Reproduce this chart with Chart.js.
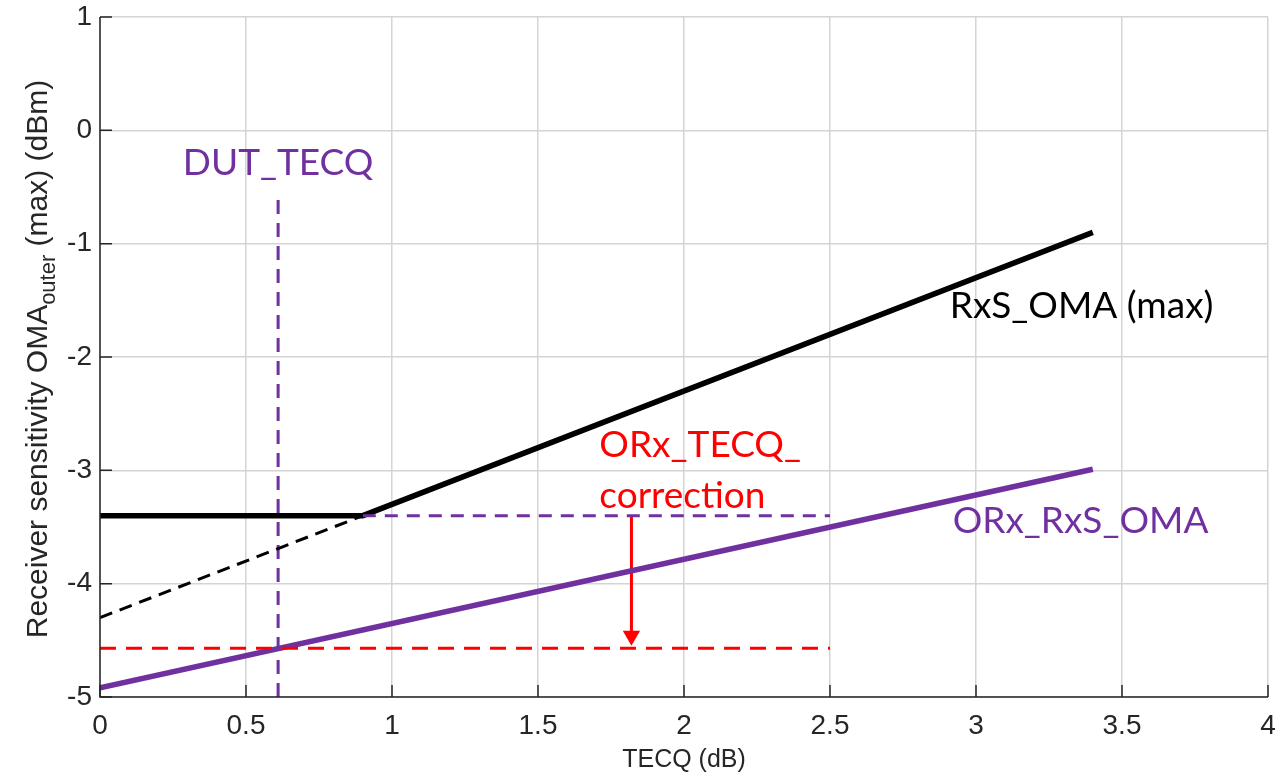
<!DOCTYPE html>
<html>
<head>
<meta charset="utf-8">
<script src="https://cdn.jsdelivr.net/npm/chart.js@4/dist/chart.umd.min.js"></script>
<style>
  html, body { margin: 0; padding: 0; background: #fff; }
  #wrap { width: 1286px; height: 776px; }
</style>
</head>
<body>
<div id="wrap"><canvas id="chart"></canvas></div>
<script>
// values
const rxsMaxX = [0, 0.9, 3.4];
const rxsMaxY = [-3.4, -3.4, -0.9];
const rxsExtX = [0, 0.9];
const rxsExtY = [-4.3, -3.4];
const orxX = [0, 3.4];
const orxY = [-4.92, -2.99];
const dutX = [0.61, 0.61];
const dutY = [-5, -0.6];
const refLevelX = [0.9, 2.5];
const refLevelY = [-3.4, -3.4];
const redLevelX = [0, 2.5];
const redLevelY = [-4.57, -4.57];
const arrowX = [1.82, 1.82];
const arrowY = [-3.4, -4.46];
const xTicks = [0, 0.5, 1, 1.5, 2, 2.5, 3, 3.5, 4];
const yTicks = [1, 0, -1, -2, -3, -4, -5];

// text labels, anchored in data units (baseline)
const notes = [
    { text: "DUT_TECQ", x: 0.61, y: -0.39, color: "#7030A0", align: "center" },
    { text: "RxS_OMA (max)", x: 2.91, y: -1.66, color: "#000000", align: "left" },
    { text: "ORx_TECQ_", x: 1.71, y: -2.88, color: "#FF0000", align: "left" },
    { text: "correction", x: 1.71, y: -3.33, color: "#FF0000", align: "left" },
    { text: "ORx_RxS_OMA", x: 2.92, y: -3.55, color: "#7030A0", align: "left" }
];

const PURPLE = "#7030A0";
const RED = "#FF0000";
const AXIS = "#262626";
const SANS = "'Liberation Sans', Arial, sans-serif";

function pts(xs, ys) {
    return xs.map((x, i) => ({ x: x, y: ys[i] }));
}

const decor = {
    id: "decor",
    afterDraw(chart) {
        const ctx = chart.ctx;
        const xs = chart.scales.x, ys = chart.scales.y;
        const a = chart.chartArea;
        ctx.save();
        // axis box: dark left and bottom
        ctx.strokeStyle = AXIS;
        ctx.lineWidth = 1.5;
        ctx.beginPath();
        ctx.moveTo(a.left, a.top);
        ctx.lineTo(a.left, a.bottom);
        ctx.lineTo(a.right, a.bottom);
        ctx.stroke();
        // inward ticks
        ctx.beginPath();
        xTicks.forEach(v => {
            const px = xs.getPixelForValue(v);
            ctx.moveTo(px, a.bottom);
            ctx.lineTo(px, a.bottom - 12);
        });
        yTicks.forEach(v => {
            const py = ys.getPixelForValue(v);
            ctx.moveTo(a.left, py);
            ctx.lineTo(a.left + 12, py);
        });
        ctx.stroke();

        // annotations
        ctx.font = "37px Lato, 'Open Sans', sans-serif";
        ctx.textBaseline = "alphabetic";
        notes.forEach(n => {
            ctx.fillStyle = n.color;
            ctx.textAlign = n.align;
            ctx.fillText(n.text, xs.getPixelForValue(n.x), ys.getPixelForValue(n.y));
        });

        // x axis title
        ctx.fillStyle = AXIS;
        ctx.font = "25px " + SANS;
        ctx.textAlign = "center";
        ctx.fillText("TECQ (dB)", (a.left + a.right) / 2, 767);

        // y axis title with subscript
        ctx.translate(47, 359);
        ctx.rotate(-Math.PI / 2);
        const big = "30px " + SANS;
        const small = "22px " + SANS;
        const p1 = "Receiver sensitivity OMA", p2 = "outer", p3 = " (max) (dBm)";
        ctx.font = big;
        const w1 = ctx.measureText(p1).width, w3 = ctx.measureText(p3).width;
        ctx.font = small;
        const w2 = ctx.measureText(p2).width;
        const x0 = -(w1 + w2 + w3) / 2;
        ctx.textAlign = "left";
        ctx.font = big;
        ctx.fillText(p1, x0, 0);
        ctx.font = small;
        ctx.fillText(p2, x0 + w1, 8);
        ctx.font = big;
        ctx.fillText(p3, x0 + w1 + w2, 0);
        ctx.restore();
    }
};

new Chart(document.getElementById("chart"), {
    type: "line",
    data: {
        datasets: [
            { data: pts(rxsExtX, rxsExtY), borderColor: "#000", borderWidth: 3, borderDash: [13, 8] },
            { data: pts(refLevelX, refLevelY), borderColor: PURPLE, borderWidth: 3, borderDash: [13, 9] },
            { data: pts(dutX, dutY), borderColor: PURPLE, borderWidth: 3, borderDash: [14, 9] },
            { data: pts(redLevelX, redLevelY), borderColor: RED, borderWidth: 3, borderDash: [16, 10] },
            { data: pts(rxsMaxX, rxsMaxY), borderColor: "#000", borderWidth: 5.5 },
            { data: pts(orxX, orxY), borderColor: PURPLE, borderWidth: 5.5 },
            {
                data: pts(arrowX, arrowY), borderColor: RED, borderWidth: 3,
                pointRadius: [0, 10], pointStyle: "triangle", pointRotation: 180,
                pointBackgroundColor: RED, pointBorderColor: RED, pointBorderWidth: 0
            }
        ]
    },
    options: {
        responsive: true,
        maintainAspectRatio: false,
        animation: false,
        layout: { padding: { top: 17, right: 18, left: 0, bottom: 0 } },
        elements: { point: { radius: 0 }, line: { tension: 0, borderCapStyle: "butt" } },
        plugins: { legend: { display: false }, tooltip: { enabled: false } },
        scales: {
            x: {
                type: "linear", min: 0, max: 4,
                afterBuildTicks: s => { s.ticks = xTicks.map(v => ({ value: v })); },
                afterFit: s => { s.height = 79; s.paddingLeft = 0; s.paddingRight = 0; },
                grid: { color: "#d4d4d4", lineWidth: 1.5, drawTicks: false },
                border: { display: false },
                ticks: { color: AXIS, font: { family: SANS, size: 28 }, padding: 12, maxRotation: 0,
                         callback: v => String(v) }
            },
            y: {
                type: "linear", min: -5, max: 1,
                afterBuildTicks: s => { s.ticks = yTicks.map(v => ({ value: v })); },
                afterFit: s => { s.width = 100; s.paddingTop = 0; s.paddingBottom = 0; },
                grid: { color: "#d4d4d4", lineWidth: 1.5, drawTicks: false },
                border: { display: false },
                ticks: { color: AXIS, font: { family: SANS, size: 28 }, padding: 8,
                         callback: v => String(v) }
            }
        }
    },
    plugins: [decor]
});
</script>
</body>
</html>
